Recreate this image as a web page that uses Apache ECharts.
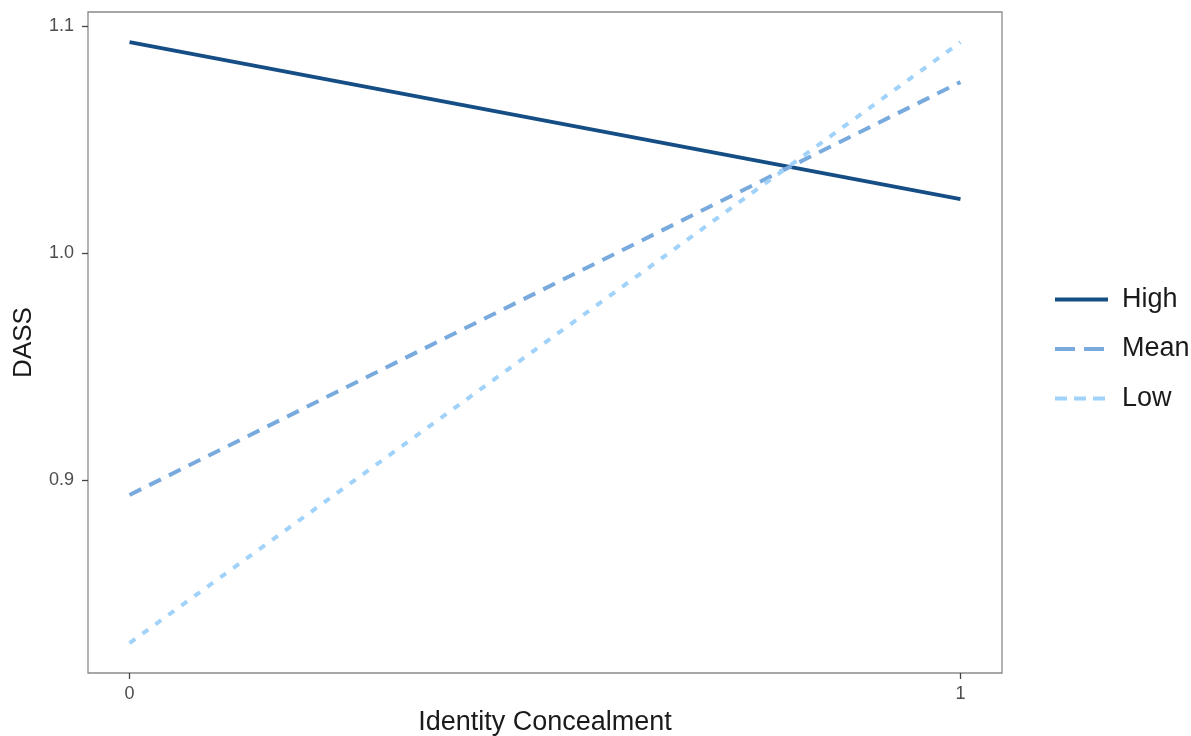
<!DOCTYPE html>
<html>
<head>
<meta charset="utf-8">
<script src="https://cdn.jsdelivr.net/npm/echarts@6/dist/echarts.min.js"></script>
<style>html,body{margin:0;padding:0;background:#fff}#c{width:1191px;height:736px}</style>
</head>
<body>
<div id="c"></div>
<script>
const xValues = [0, 1];
const highValues = [1.093, 1.0238];
const meanValues = [0.8934, 1.0754];
const lowValues = [0.8281, 1.093];
const xTicks = [0, 1];
const yTicks = [0.9, 1.0, 1.1];
const seriesNames = ['High', 'Mean', 'Low'];

const pairs = v => xValues.map((x, i) => [x, v[i]]);
const chart = echarts.init(document.getElementById('c'));
const font = 'Liberation Sans, Arial, sans-serif';
const colors = { High: '#154e84', Mean: '#79aadd', Low: '#a0d2fa' };
chart.setOption({
  animation: false,
  grid: { left: 88, right: 189, top: 12, bottom: 63, show: true, borderColor: '#8a8a8a', borderWidth: 1.3,
          containLabel: false, outerBoundsMode: 'none' },
  xAxis: {
    type: 'value', min: -0.05, max: 1.05,
    name: 'Identity Concealment', nameLocation: 'middle', nameGap: 36,
    nameTextStyle: { fontSize: 27, color: '#1a1a1a', fontFamily: font },
    axisLine: { show: false, onZero: false }, splitLine: { show: false },
    axisTick: { show: true, length: 6, lineStyle: { color: '#444', width: 1.3 }, customValues: xTicks },
    axisLabel: { fontSize: 18, color: '#4d4d4d', fontFamily: font, margin: 12, customValues: xTicks, formatter: v => String(v) }
  },
  yAxis: {
    type: 'value', min: 0.8149, max: 1.1063,
    name: 'DASS', nameLocation: 'middle', nameGap: 51, nameRotate: 90,
    nameTextStyle: { fontSize: 26, color: '#1a1a1a', fontFamily: font },
    axisLine: { show: false, onZero: false }, splitLine: { show: false },
    axisTick: { show: true, length: 6, lineStyle: { color: '#444', width: 1.3 }, customValues: yTicks },
    axisLabel: { fontSize: 18, color: '#4d4d4d', fontFamily: font, margin: 14, customValues: yTicks, formatter: v => v.toFixed(1) }
  },
  legend: {
    orient: 'vertical', left: 1048, top: 281, itemWidth: 53, itemHeight: 14, itemGap: 22.5,
    data: [
      { name: seriesNames[0], lineStyle: { type: 'solid' } },
      { name: seriesNames[1], lineStyle: { type: [20, 9] } },
      { name: seriesNames[2], lineStyle: { type: [12, 7] } }
    ],
    itemStyle: { opacity: 0 },
    lineStyle: { width: 4, cap: 'butt' },
    textStyle: { fontSize: 27, lineHeight: 26, color: '#1a1a1a', fontFamily: font, padding: [0, 0, 0, 9] }
  },
  series: [
    { name: 'High', type: 'line', data: pairs(highValues), symbol: 'none', color: colors.High,
      lineStyle: { width: 3.8, color: colors.High, cap: 'butt' } },
    { name: 'Mean', type: 'line', data: pairs(meanValues), symbol: 'none', color: colors.Mean,
      lineStyle: { width: 4, color: colors.Mean, type: [13, 9], cap: 'butt' } },
    { name: 'Low', type: 'line', data: pairs(lowValues), symbol: 'none', color: colors.Low,
      lineStyle: { width: 4, color: colors.Low, type: [7, 9], cap: 'butt' } }
  ]
});
</script>
</body>
</html>
